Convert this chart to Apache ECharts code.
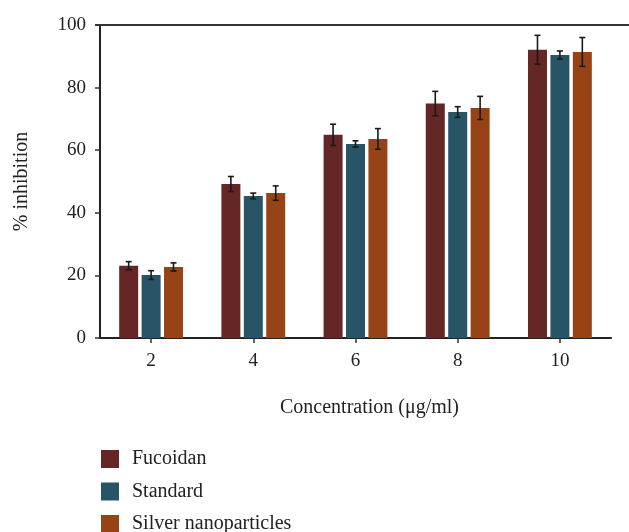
<!DOCTYPE html>
<html><head><meta charset="utf-8">
<script src="https://cdn.jsdelivr.net/npm/echarts@6/dist/echarts.min.js"></script>
<style>html,body{margin:0;padding:0;background:#fff}#c{width:629px;height:532px}</style>
</head><body><div id="c"></div>
<script>
const categories = ['2', '4', '6', '8', '10'];
const seriesNames = ['Fucoidan', 'Standard', 'Silver nanoparticles'];
const fucoidan = [23.1, 49.2, 64.9, 74.9, 92.1];
const fucoidanErr = [1.3, 2.4, 3.4, 3.9, 4.6];
const standard = [20.1, 45.4, 62.0, 72.2, 90.4];
const standardErr = [1.4, 0.9, 1.0, 1.7, 1.3];
const silver = [22.7, 46.3, 63.6, 73.5, 91.4];
const silverErr = [1.3, 2.3, 3.3, 3.7, 4.6];
const yTicks = [0, 20, 40, 60, 80, 100];
const colors = ['#652626', '#285565', '#974316'];

const font = '"Liberation Serif", "DejaVu Serif", serif';
const values = [fucoidan, standard, silver];
const errs = [fucoidanErr, standardErr, silverErr];
const BAR_W = 19, GAP_RATIO = 0.18;

const chart = echarts.init(document.getElementById('c'), null, {renderer: 'canvas'});

function errSeries(k) {
  return {
    type: 'custom',
    name: seriesNames[k] + ' err',
    z: 10,
    silent: true,
    data: categories.map((c, i) => [i, values[k][i] - errs[k][i], values[k][i] + errs[k][i]]),
    renderItem: function (params, api) {
      const lo = api.coord([api.value(0), api.value(1)]);
      const hi = api.coord([api.value(0), api.value(2)]);
      const gap = BAR_W * GAP_RATIO;
      const offset = (k - 1) * (BAR_W + gap);
      const x = lo[0] + offset;
      const cap = 3;
      const st = {stroke: '#1a1a1a', lineWidth: 1.6};
      return {type: 'group', children: [
        {type: 'line', shape: {x1: x, y1: lo[1], x2: x, y2: hi[1]}, style: st},
        {type: 'line', shape: {x1: x - cap, y1: lo[1], x2: x + cap, y2: lo[1]}, style: st},
        {type: 'line', shape: {x1: x - cap, y1: hi[1], x2: x + cap, y2: hi[1]}, style: st}
      ]};
    }
  };
}

const legendTops = [449, 481.5, 514];
const option = {
  animation: false,
  color: colors,
  textStyle: {fontFamily: font},
  grid: {left: 100, right: 18, top: 25, bottom: 194, containLabel: false},
  legend: seriesNames.map((n, k) => ({
    data: [n],
    orient: 'vertical',
    left: 101, top: legendTops[k], padding: 0,
    itemWidth: 18, itemHeight: 18,
    icon: 'rect',
    textStyle: {fontFamily: font, fontSize: 20, color: '#222', padding: [0, 0, 0, 8]}
  })),
  xAxis: {
    type: 'category',
    data: categories,
    name: 'Concentration (μg/ml)',
    nameLocation: 'middle',
    nameGap: 60,
    nameTextStyle: {fontFamily: font, fontSize: 20, color: '#222', padding: [0, 0, 0, 28]},
    axisLine: {lineStyle: {color: '#222', width: 2}},
    axisTick: {show: true, alignWithLabel: true, length: 5, lineStyle: {color: '#333', width: 1.5}},
    axisLabel: {fontFamily: font, fontSize: 19, color: '#222', margin: 14}
  },
  yAxis: {
    type: 'value',
    min: 0, max: 100, interval: 20,
    name: '% inhibition',
    nameLocation: 'middle',
    nameGap: 68,
    nameTextStyle: {fontFamily: font, fontSize: 20, color: '#222'},
    axisLine: {show: true, lineStyle: {color: '#222', width: 2}},
    axisTick: {show: true, length: 5, lineStyle: {color: '#333', width: 1.5}},
    axisLabel: {fontFamily: font, fontSize: 19, color: '#222', margin: 14,
      formatter: v => yTicks.includes(v) ? String(v) : ''},
    splitLine: {show: false}
  },
  series: [
    ...seriesNames.map((n, k) => ({
      type: 'bar', name: n, data: values[k],
      barWidth: BAR_W, barGap: (GAP_RATIO * 100) + '%',
      itemStyle: {color: colors[k]}
    })),
    errSeries(0), errSeries(1), errSeries(2)
  ]
};
chart.setOption(option);
// top frame line at y = 100
const yTop = chart.convertToPixel({yAxisIndex: 0}, 100);
const xLeft = chart.convertToPixel({xAxisIndex: 0}, 0) - 51;
chart.setOption({graphic: [{type: 'line', shape: {x1: xLeft - 5, y1: yTop, x2: 629, y2: yTop},
  style: {stroke: '#333', lineWidth: 2}, z: 5}]});
</script></body></html>
